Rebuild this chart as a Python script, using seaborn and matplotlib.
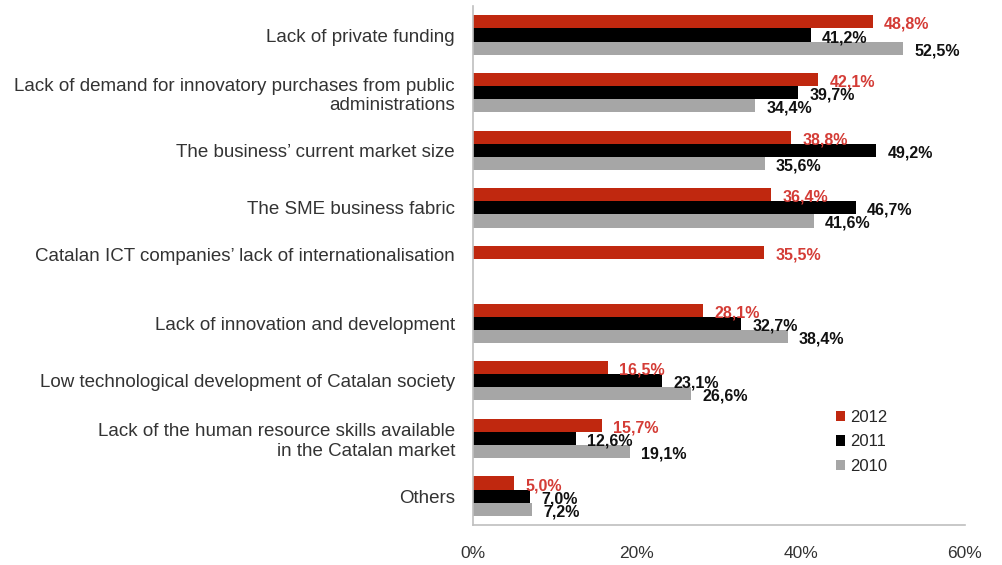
import matplotlib
matplotlib.use("Agg")
import matplotlib.pyplot as plt
import seaborn as sns
import pandas as pd
import numpy as np

categories = [
    "Lack of private funding",
    "Lack of demand for innovatory purchases from public\nadministrations",
    "The business\u2019 current market size",
    "The SME business fabric",
    "Catalan ICT companies\u2019 lack of internationalisation",
    "Lack of innovation and development",
    "Low technological development of Catalan society",
    "Lack of the human resource skills available\nin the Catalan market",
    "Others",
]
years = ["2012", "2011", "2010"]
v2012 = [48.8, 42.1, 38.8, 36.4, 35.5, 28.1, 16.5, 15.7, 5.0]
v2011 = [41.2, 39.7, 49.2, 46.7, None, 32.7, 23.1, 12.6, 7.0]
v2010 = [52.5, 34.4, 35.6, 41.6, None, 38.4, 26.6, 19.1, 7.2]
x_ticks = [0, 20, 40, 60]

colors = {"2012": "#C0280F", "2011": "#000000", "2010": "#A6A6A6"}
label_colors = {"2012": "#D43C36", "2011": "#111111", "2010": "#111111"}

rows = []
for yr, vals in zip(years, [v2012, v2011, v2010]):
    for c, v in zip(categories, vals):
        if v is not None:
            rows.append({"category": c, "year": yr, "value": v})
df = pd.DataFrame(rows)

sns.set_theme(style="white")
plt.rcParams["font.family"] = ["Liberation Sans", "DejaVu Sans"]

fig = plt.figure(figsize=(10.02, 5.65), dpi=100)
ax = fig.add_axes([0.472, 0.071, 0.491, 0.918])

sns.barplot(data=df, y="category", x="value", hue="year", order=categories,
            hue_order=years, palette=colors, orient="h", width=0.68,
            saturation=1, errorbar=None, ax=ax, legend=True, linewidth=0)

for cont, yr in zip(ax.containers, years):
    for bar in cont:
        w = bar.get_width()
        if np.isnan(w):
            continue
        yc = bar.get_y() + bar.get_height() / 2
        ax.annotate(f"{w:.1f}%".replace(".", ","), xy=(w, yc),
                    xytext=(8, -1.8), textcoords="offset points",
                    ha="left", va="center", fontsize=11.5, fontweight="bold",
                    color=label_colors[yr])

ax.set_xlim(0, 60)
ax.set_ylim(8.5, -0.5)
ax.set_xticks(x_ticks)
ax.set_xticklabels([f"{t}%" for t in x_ticks], fontsize=12.5, color="#333333")
ax.tick_params(axis="x", length=0, pad=15)

# category labels; the internationalisation one sits level with its single bar
special = 4
ax.set_yticks(range(len(categories)))
ax.set_yticklabels(["" if i == special else c for i, c in enumerate(categories)],
                   fontsize=13.5, color="#333333", ha="right",
                   multialignment="right")
ax.tick_params(axis="y", length=0, pad=13)
ax.annotate(categories[special], xy=(0, special - 0.16),
            xycoords=ax.get_yaxis_transform(), xytext=(-13, 0),
            textcoords="offset points", ha="right", va="center",
            fontsize=13.5, color="#333333")

ax.set_xlabel("")
ax.set_ylabel("")
for s in ["top", "right"]:
    ax.spines[s].set_visible(False)
for s in ["left", "bottom"]:
    ax.spines[s].set_color("#BFBFBF")
    ax.spines[s].set_linewidth(1.2)

leg = ax.legend(loc="upper left", bbox_to_anchor=(0.708, 0.25), frameon=False,
                fontsize=12, handlelength=0.55, handleheight=0.55,
                handletextpad=0.3, labelspacing=0.55)

fig.savefig("out.png", dpi=100)
